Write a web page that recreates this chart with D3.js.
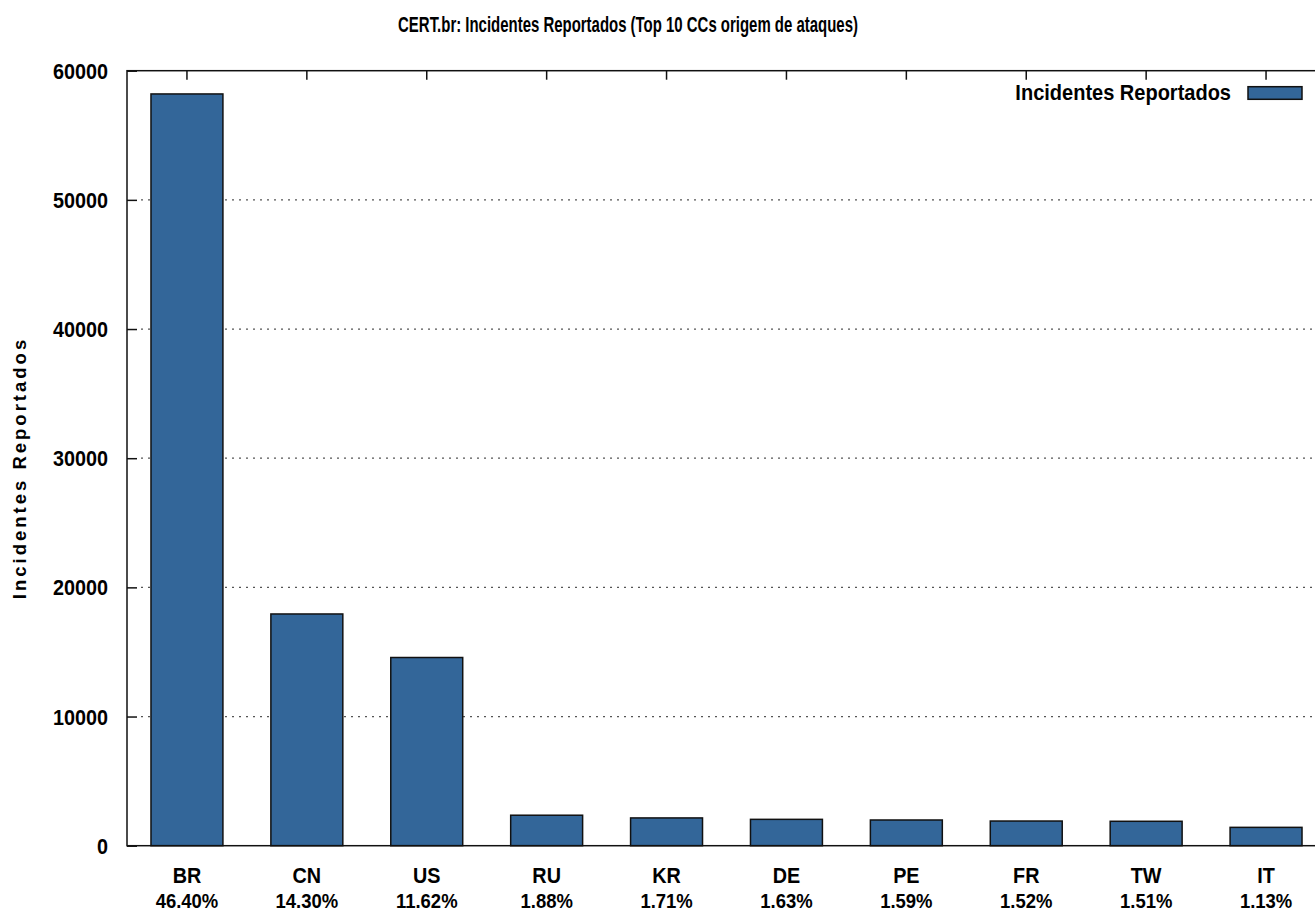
<!DOCTYPE html>
<html>
<head>
<meta charset="utf-8">
<script src="https://cdn.jsdelivr.net/npm/d3@7"></script>
<style>
  body { margin: 0; background: #fff; }
  svg { display: block; }
  text { font-family: "Liberation Sans", Arial, sans-serif; font-weight: bold; fill: #000; font-size: 22px; }
</style>
</head>
<body>
<div id="vis"></div>
<script>
// Top 10 country codes
const countries = ["BR", "CN", "US", "RU", "KR", "DE", "PE", "FR", "TW", "IT"];
const percents = ["46.40%", "14.30%", "11.62%", "1.88%", "1.71%", "1.63%", "1.59%", "1.52%", "1.51%", "1.13%"];
const incidents = [58200, 17940, 14570, 2360, 2150, 2040, 1990, 1910, 1890, 1420];
const yTicks = [0, 10000, 20000, 30000, 40000, 50000, 60000];

const width = 1315;
const height = 913;
const margin = { top: 70.7, right: -11, bottom: 67.3, left: 127 };

const svg = d3.select("#vis")
  .append("svg")
  .attr("width", width)
  .attr("height", height);

const data = countries.map((c, i) => ({ cc: c, pct: percents[i], value: incidents[i] }));

// narrow bold text: squeeze horizontally around its anchor
function label(parent, x, y, txt, anchor, sx) {
  return parent.append("text")
    .attr("transform", `translate(${x},${y}) scale(${sx},1)`)
    .attr("text-anchor", anchor)
    .text(txt);
}

// Scales
const x = d3.scaleBand()
  .domain(countries)
  .range([margin.left, width - margin.right])
  .paddingInner(0.4)
  .paddingOuter(0.2);

const y = d3.scaleLinear()
  .domain([0, 60000])
  .range([height - margin.bottom, margin.top]);

const x0 = margin.left, x1 = width - margin.right;

// Grid (dotted), behind the bars
svg.append("g")
  .selectAll("line")
  .data(yTicks.filter(t => t > 0 && t < 60000))
  .enter()
  .append("line")
  .attr("x1", x0 + 14)
  .attr("x2", x1)
  .attr("y1", d => y(d))
  .attr("y2", d => y(d))
  .attr("stroke", "#555")
  .attr("stroke-width", 1.2)
  .attr("stroke-dasharray", "2,5");

// Bars
svg.append("g")
  .selectAll("rect")
  .data(data)
  .enter()
  .append("rect")
  .attr("x", d => x(d.cc))
  .attr("y", d => y(d.value))
  .attr("width", x.bandwidth())
  .attr("height", d => y(0) - y(d.value))
  .attr("fill", "#336699")
  .attr("stroke", "#111")
  .attr("stroke-width", 1.5);

// Left axis: inward ticks
const yAxis = svg.append("g")
  .attr("transform", `translate(${x0},0)`)
  .call(d3.axisLeft(y).tickValues(yTicks).tickSize(-10).tickFormat(""));
yAxis.select(".domain").remove();
yAxis.selectAll("line").attr("stroke", "#111").attr("stroke-width", 1.5);

const yl = svg.append("g");
yTicks.forEach(t => label(yl, 108, y(t) + 8, d3.format("d")(t), "end", 0.9));

// Top mirror ticks at bar centres
svg.append("g")
  .attr("transform", `translate(0,${margin.top})`)
  .call(d3.axisTop(x).tickSize(-9).tickFormat(""))
  .call(g => g.select(".domain").remove())
  .selectAll("line").attr("stroke", "#111").attr("stroke-width", 1.5);

// Bottom x labels: country code and percent
const xl = svg.append("g");
data.forEach(d => {
  const cx = x(d.cc) + x.bandwidth() / 2;
  label(xl, cx, 883, d.cc, "middle", 0.9);
  label(xl, cx, 908, d.pct, "middle", 0.88).style("font-size", "21px");
});

// Frame
svg.append("rect")
  .attr("x", x0)
  .attr("y", y(60000))
  .attr("width", x1 - x0)
  .attr("height", y(0) - y(60000))
  .attr("fill", "none")
  .attr("stroke", "#111")
  .attr("stroke-width", 1.5);

// Title
label(svg, 628, 31.5, "CERT.br: Incidentes Reportados (Top 10 CCs origem de ataques)", "middle", 0.68);

// Y axis label
svg.append("text")
  .attr("transform", `translate(26,468) rotate(-90)`)
  .attr("text-anchor", "middle")
  .style("font-size", "18.5px")
  .attr("letter-spacing", "3px")
  .text("Incidentes Reportados");

// Legend
const legend = svg.append("g");
label(legend, 1231, 99.5, "Incidentes Reportados", "end", 0.91);
legend.append("rect")
  .attr("x", 1248)
  .attr("y", 86.7)
  .attr("width", 54)
  .attr("height", 12.6)
  .attr("fill", "#336699")
  .attr("stroke", "#111")
  .attr("stroke-width", 1.5);
</script>
</body>
</html>
